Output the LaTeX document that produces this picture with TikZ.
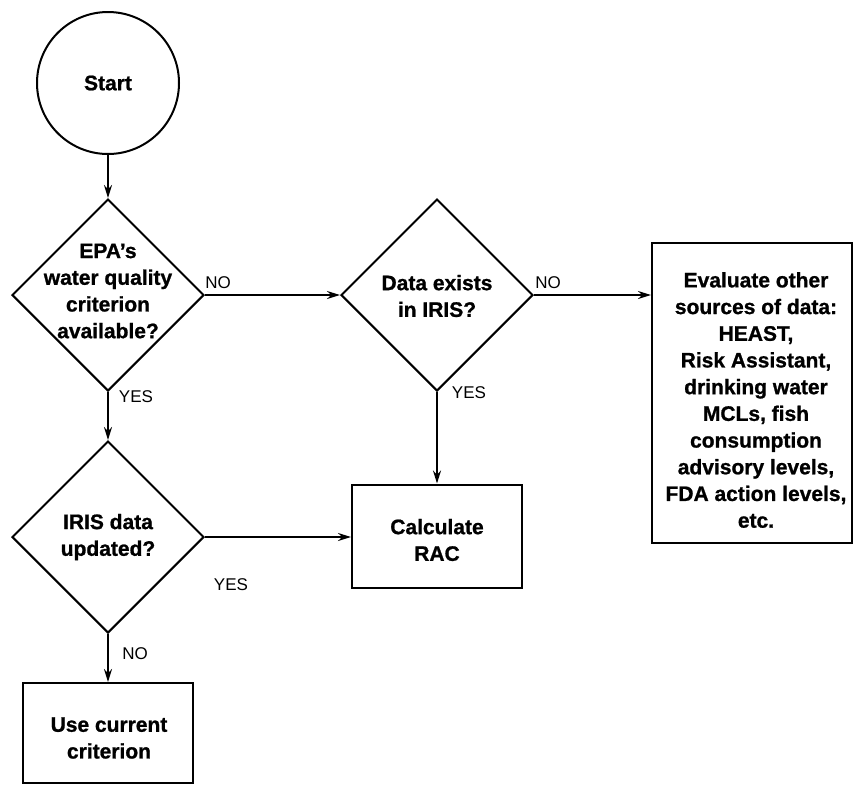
\documentclass[tikz,border=0pt]{standalone}
\usepackage{fontspec}
\setmainfont{Liberation Sans}[BoldFeatures={FakeBold=1}]
\usetikzlibrary{shapes.geometric,arrows.meta}
\tikzset{
  ln/.style={line width=2pt},
  dia/.style={ln, draw, shape=diamond, aspect=1, minimum width=192pt, minimum height=192pt, inner sep=0pt},
  boxn/.style={ln, draw, rectangle, inner sep=0pt},
  txt/.style={align=center, font=\bfseries\fontsize{21}{26.7}\selectfont, inner sep=0pt},
  lab/.style={font=\fontsize{17}{19}\selectfont, inner sep=0pt},
  arr/.style={ln, -{Stealth[length=13pt,width=8pt]}}
}
\begin{document}
\begin{tikzpicture}[x=1pt,y=-1pt]
\useasboundingbox (0,0) rectangle (854,785);
% start
\node[ln, draw, circle, minimum size=142pt, inner sep=0pt] (start) at (108,83) {};
\node[txt] (starttxt) at (start) {Start};
% diamonds
\node[dia] (d1) at (108,295) {};
\node[txt] (d1txt) at (108,291) {EPA's\\water quality\\criterion\\available?};
\node[dia] (d2) at (437,295) {};
\node[txt] (d2txt) at (437,296) {Data exists\\in IRIS?};
\node[dia] (d3) at (108,537) {};
\node[txt] (d3txt) at (108,537) {IRIS data\\updated?};
% boxes
\node[boxn, minimum width=200pt, minimum height=300pt] (ev) at (752,393) {};
\node[txt] (evtxt) at (756,400) {Evaluate other\\sources of data:\\HEAST,\\Risk Assistant,\\drinking water\\MCLs, fish\\consumption\\advisory levels,\\FDA action levels,\\etc.};
\node[boxn, minimum width=170pt, minimum height=103pt] (rac) at (437,536) {};
\node[txt] (ractxt) at (437,540) {Calculate\\RAC};
\node[boxn, minimum width=170pt, minimum height=100pt] (use) at (108,733) {};
\node[txt] (usetxt) at (109,738) {Use current\\criterion};
% connectors
\draw[arr] (start.south) -- (d1.north);
\draw[arr] (d1.east) -- (d2.west);
\draw[arr] (d2.east) -- (d2.east -| ev.west);
\draw[arr] (d1.south) -- (d3.north);
\draw[arr] (d2.south) -- (rac.north);
\draw[arr] (d3.east) -- (d3.east -| rac.west);
\draw[arr] (d3.south) -- (use.north);
% labels
\node[lab] (l1) at (218,283) {NO};
\node[lab] (l2) at (548,283) {NO};
\node[lab] (l3) at (136,397) {YES};
\node[lab] (l4) at (469,393) {YES};
\node[lab] (l5) at (231,585) {YES};
\node[lab] (l6) at (135,654) {NO};
\end{tikzpicture}
\end{document}
